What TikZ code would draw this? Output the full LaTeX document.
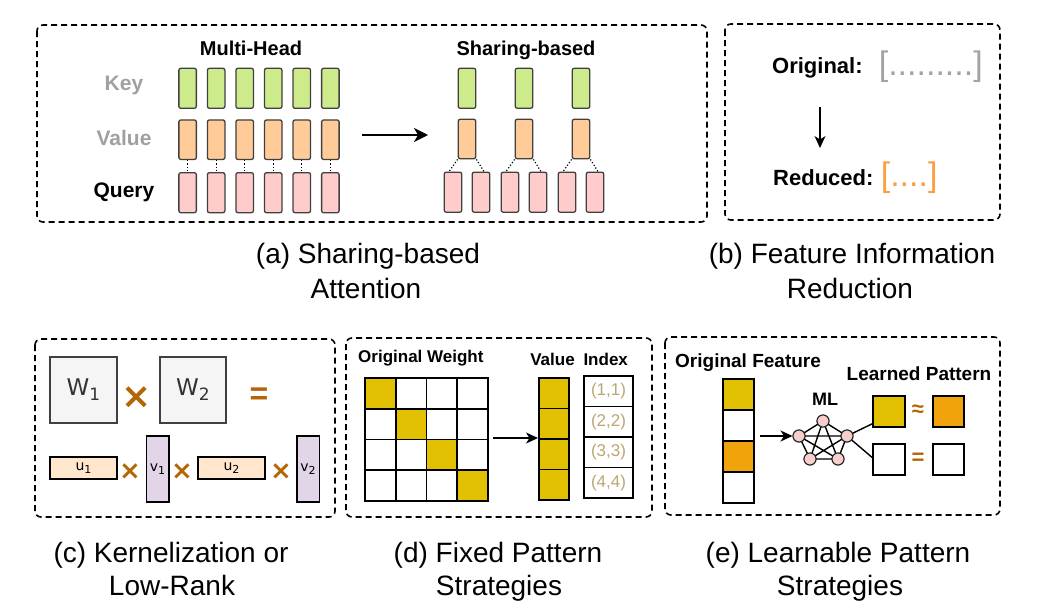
\documentclass[tikz,border=0pt]{standalone}
\usepackage{fontspec}
\setmainfont{Liberation Sans}
\newfontfamily\dvs{DejaVu Sans}
\usetikzlibrary{arrows.meta,calc}
\definecolor{keyc}{HTML}{CDEB8B}
\definecolor{valc}{HTML}{FFCC99}
\definecolor{qc}{HTML}{FFCCCC}
\definecolor{edgec}{HTML}{404040}
\definecolor{goldc}{HTML}{E0C000}
\definecolor{orngc}{HTML}{F0A30A}
\definecolor{brownc}{HTML}{B46504}
\definecolor{idxc}{HTML}{BBA572}
\definecolor{peachc}{HTML}{FFE6CC}
\definecolor{lavc}{HTML}{E1D5E7}
\definecolor{wboxc}{HTML}{F5F5F5}
\definecolor{pinkc}{HTML}{F8CECC}
\definecolor{lgrayc}{HTML}{A3A3A3}
\definecolor{orbrc}{HTML}{FA9F42}
\definecolor{labgray}{HTML}{A0A0A0}
\begin{document}
\begin{tikzpicture}[x=1pt,y=-1pt,
  panel/.style={draw=black, line width=1.6pt, dash pattern=on 6pt off 4pt, rounded corners=6pt},
  head/.style={draw=edgec, line width=1.3pt, rounded corners=2pt, minimum width=17.5pt, inner sep=0pt},
  keyr/.style={head, fill=keyc, minimum height=40pt},
  valr/.style={head, fill=valc, minimum height=39.5pt},
  qr/.style={head, fill=qc, minimum height=40pt},
  dotl/.style={draw=black, line width=1.2pt, dash pattern=on 1.2pt off 2pt},
  arr/.style={-{Stealth[length=14pt,width=14pt,inset=4pt]}, line width=1.6pt},
  sarr/.style={-{Stealth[length=12pt,width=11pt,inset=3.5pt]}, line width=1.3pt},
  captext/.style={font=\fontsize{28}{34}\selectfont, anchor=base, inner sep=0pt},
  ttl/.style={font=\fontsize{20}{24}\selectfont\bfseries, anchor=base, inner sep=0pt},
  kvq/.style={font=\fontsize{21}{24}\selectfont\bfseries, anchor=base, inner sep=0pt},
  blab/.style={font=\fontsize{22}{26}\selectfont\bfseries, anchor=base west, inner sep=0pt},
  brk/.style={font=\fontsize{34}{40}\selectfont, anchor=base west, inner sep=0pt},
  wbox/.style={draw=edgec, fill=wboxc, line width=1.5pt, inner sep=0pt, font=\dvs\fontsize{23}{26}\selectfont, text=black!80},
  ubox/.style={draw=black, fill=peachc, line width=1.5pt, minimum width=67pt, minimum height=22pt, inner sep=0pt, font=\dvs\fontsize{14}{16}\selectfont},
  vbox/.style={draw=black, fill=lavc, line width=1.5pt, minimum width=22.5pt, minimum height=66pt, inner sep=0pt, font=\dvs\fontsize{14}{16}\selectfont},
  mult/.style={text=brownc, inner sep=0pt, font=\dvs\bfseries\fontsize{36}{36}\selectfont},
  smult/.style={text=brownc, inner sep=0pt, font=\dvs\bfseries\fontsize{26}{26}\selectfont},
  gcell/.style={draw=black, line width=1.6pt, minimum width=30.75pt, minimum height=30.75pt, inner sep=0pt},
  vcell/.style={draw=black, line width=1.6pt, fill=goldc, minimum width=30pt, minimum height=30.5pt, inner sep=0pt},
  icell/.style={draw=black, line width=1.6pt, minimum width=49pt, minimum height=30.5pt, inner sep=0pt, text=idxc, font=\fontsize{17}{20}\selectfont},
  dlab/.style={font=\fontsize{17}{20}\selectfont\bfseries, anchor=base, inner sep=0pt},
  elab/.style={font=\fontsize{19}{22}\selectfont\bfseries, anchor=base, inner sep=0pt},
  fcell/.style={draw=black, line width=1.6pt, minimum width=31pt, minimum height=31pt, inner sep=0pt},
  nn/.style={circle, draw=black!85, fill=pinkc, line width=1pt, minimum size=12pt, inner sep=0pt},
  nedge/.style={line width=1.4pt, draw=black}
]
\useasboundingbox (0,0) rectangle (1037,614);

% ---------------- panel frames
\draw[panel] (37,25) rectangle (707,222);
\draw[panel] (725,24) rectangle (1000,220);
\draw[panel] (35,339) rectangle (335,517);
\draw[panel] (346,338) rectangle (652,517);
\draw[panel] (665,337) rectangle (1000,515);

% ---------------- (a)
\node[ttl] (tmh) at (251,55) {Multi-Head};
\node[ttl] (tsb) at (526,55) {Sharing-based};
\node[kvq, text=labgray] (lk) at (124,90) {Key};
\node[kvq, text=labgray] (lv) at (124,145) {Value};
\node[kvq, text=black] (lq) at (124,197) {Query};
\foreach \i in {0,...,5}{
  \pgfmathsetmacro\xx{187.6+28.55*\i}
  \node[keyr] (mk\i) at (\xx,88.3) {};
  \node[valr] (mv\i) at (\xx,139.7) {};
  \node[qr] (mq\i) at (\xx,192.7) {};
  \draw[dotl] (mv\i.south) -- (mq\i.north);
}
\foreach \i/\c in {0/467,1/524,2/581}{
  \node[keyr] (sk\i) at (\c,88.3) {};
  \node[valr] (sv\i) at (\c,139) {};
  \node[qr] (sqa\i) at ({\c-14},192.2) {};
  \node[qr] (sqb\i) at ({\c+14},192.2) {};
  \draw[dotl] (sv\i.south west) -- ($(sqa\i.north)+(-4,0)$);
  \draw[dotl] (sv\i.south east) -- ($(sqb\i.north)+(3,0)$);
}
\coordinate (aa0) at (362,135);
\coordinate (aa1) at (428,135);
\draw[arr] (aa0) -- (aa1);
\node[captext] (capa1) at (368,263) {(a) Sharing-based};
\node[captext] (capa2) at (366,298) {Attention};

% ---------------- (b)
\node[blab] (borig) at (772,73.3) {Original:};
\node[blab] (bred) at (773,185.7) {Reduced:};
\node[brk, text=lgrayc] (bgr) at (878.6,75) {[.........]};
\node[brk, text=orbrc] (bor) at (880.6,186) {[....]};
\coordinate (ba0) at (820,107);
\coordinate (ba1) at (820,148);
\draw[sarr] (ba0) -- (ba1);
\node[captext] (capb1) at (852,263) {(b) Feature Information};
\node[captext] (capb2) at (850,298) {Reduction};

% ---------------- (c)
\node[wbox, minimum width=67pt, minimum height=66pt] (w1) at (83.5,390) {W\raisebox{-5pt}{\fontsize{17}{17}\selectfont 1}};
\node[wbox, minimum width=66pt, minimum height=66pt] (w2) at (193,390) {W\raisebox{-5pt}{\fontsize{17}{17}\selectfont 2}};
\node[mult] (m1) at (137,398) {×};
\node[text=brownc, inner sep=0pt, font=\fontsize{32}{32}\selectfont\bfseries] (eq1) at (259,396) {=};
\node[ubox] (u1) at (83.5,468) {u\raisebox{-3pt}{\fontsize{11}{11}\selectfont 1}};
\node[smult] (m2) at (130,472) {×};
\node[vbox] (v1) at (157.5,469) {v\raisebox{-3pt}{\fontsize{11}{11}\selectfont 1}};
\node[smult] (m3) at (182,472) {×};
\node[ubox] (u2) at (231.5,468) {u\raisebox{-3pt}{\fontsize{11}{11}\selectfont 2}};
\node[smult] (m4) at (281,472) {×};
\node[vbox] (v2) at (308,469) {v\raisebox{-3pt}{\fontsize{11}{11}\selectfont 2}};
\node[captext] (capc1) at (171,562) {(c) Kernelization or};
\node[captext] (capc2) at (172,595) {Low-Rank};

% ---------------- (d)
\node[dlab, anchor=base west] (dow) at (358,362.7) {Original Weight};
\node[dlab] (dval) at (552.5,365) {Value};
\node[dlab] (didx) at (605.7,365) {Index};
\foreach \r in {0,...,3}{
  \foreach \c in {0,...,3}{
    \pgfmathsetmacro\gx{365+30.75*(\c+0.5)}
    \pgfmathsetmacro\gy{378+30.75*(\r+0.5)}
    \ifnum\r=\c
      \node[gcell, fill=goldc] (g\r\c) at (\gx,\gy) {};
    \else
      \node[gcell] (g\r\c) at (\gx,\gy) {};
    \fi
  }
}
\foreach \r/\t in {0/{(1,1)},1/{(2,2)},2/{(3,3)},3/{(4,4)}}{
  \pgfmathsetmacro\vy{378+30.5*(\r+0.5)}
  \pgfmathsetmacro\iy{376+30.5*(\r+0.5)}
  \node[vcell] (val\r) at (554,\vy) {};
  \node[icell] (idx\r) at (608.5,\iy) {\t};
}
\coordinate (da0) at (493,438);
\coordinate (da1) at (538,438);
\draw[sarr] (da0) -- (da1);
\node[captext] (capd1) at (498,562) {(d) Fixed Pattern};
\node[captext] (capd2) at (499,595) {Strategies};

% ---------------- (e)
\node[elab, anchor=base west] (eof) at (675,367.3) {Original Feature};
\node[elab] (elp) at (919,380) {Learned Pattern};
\node[font=\fontsize{18}{20}\selectfont\bfseries, anchor=base, inner sep=0pt] (eml) at (825,405) {ML};
\node[fcell, fill=goldc] (f0) at (738.5,394.5) {};
\node[fcell] (f1) at (738.5,425.5) {};
\node[fcell, fill=orngc] (f2) at (738.5,456.5) {};
\node[fcell] (f3) at (738.5,487.5) {};
\coordinate (ea0) at (760,436);
\node[nn] (n1) at (799,436) {};
\node[nn] (n2) at (823,421) {};
\node[nn] (n3) at (847,436) {};
\node[nn] (n4) at (810,459) {};
\node[nn] (n5) at (838,459) {};
\draw[nedge] (n1.center) -- (n2.center) (n1.center) -- (n3.center) (n1.center) -- (n4.center) (n1.center) -- (n5.center)
             (n2.center) -- (n3.center) (n2.center) -- (n4.center) (n2.center) -- (n5.center)
             (n3.center) -- (n4.center) (n3.center) -- (n5.center) (n4.center) -- (n5.center);
\foreach \k in {1,...,5}{ \node[nn] at (n\k) {}; }
\draw[sarr] (ea0) -- (n1);
\node[fcell, minimum width=32pt, fill=goldc] (lp1) at (889,411.5) {};
\node[fcell, fill=orngc] (lp2) at (948.5,411.5) {};
\node[fcell, minimum width=32pt] (lp3) at (889,459.5) {};
\node[fcell] (lp4) at (948.5,459.5) {};
\draw[nedge] (n3) -- ($(lp1.south west)+(0,-4)$);
\draw[nedge] (n3) -- ($(lp3.west)+(0,-2)$);
\node[text=brownc, inner sep=0pt, font=\fontsize{22}{22}\selectfont\bfseries] (apx) at (918,411) {≈};
\node[text=brownc, inner sep=0pt, font=\fontsize{22}{22}\selectfont\bfseries] (eq2) at (918,459) {=};
\node[captext] (cape1) at (838,562) {(e) Learnable Pattern};
\node[captext] (cape2) at (840,595) {Strategies};
\end{tikzpicture}
\end{document}
